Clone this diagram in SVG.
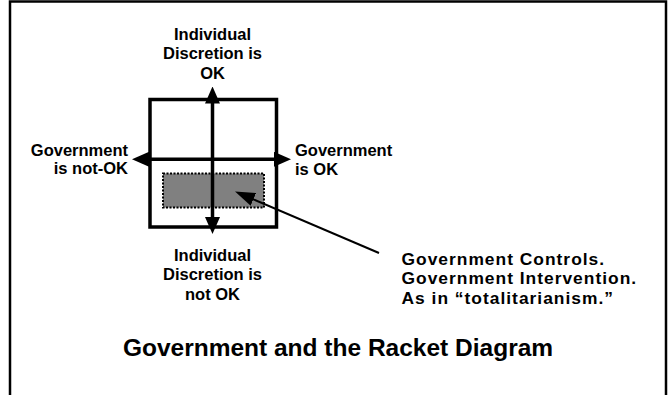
<svg xmlns="http://www.w3.org/2000/svg" width="668" height="395" viewBox="0 0 668 395">
  <style>
    .lbl { font-family: "Liberation Sans", Arial, sans-serif; font-weight: bold; font-size: 16.5px; fill: #000; }
    .note { font-family: "Liberation Sans", Arial, sans-serif; font-weight: bold; font-size: 17.4px; letter-spacing: 1px; fill: #000; }
    .title { font-family: "Liberation Sans", Arial, sans-serif; font-weight: bold; font-size: 24.5px; fill: #000; }
    .axis { stroke: #000; stroke-width: 3.5; fill: none; }
    .ptr { stroke: #000; stroke-width: 2; fill: none; }
  </style>
  <defs>
    <marker id="bigHead" markerUnits="userSpaceOnUse" viewBox="0 0 17 15" markerWidth="17" markerHeight="15" refX="9" refY="7.5" orient="auto-start-reverse">
      <path d="M0,0 L17,7.5 L0,15 Z" fill="#000"/>
    </marker>
    <marker id="ptrHead" markerUnits="userSpaceOnUse" viewBox="0 0 20 14" markerWidth="20" markerHeight="14" refX="16" refY="7" orient="auto">
      <path d="M0,0 L20,7 L0,14 Z" fill="#000"/>
    </marker>
  </defs>
  <rect width="668" height="395" fill="#fff"/>
  <g id="frame">
    <path d="M10,395 V1.5 H666 V395" fill="none" stroke="#000" stroke-width="2.5"/>
  </g>
  <g id="quadrant-box">
    <rect x="150" y="99.5" width="126.5" height="127.5" fill="none" stroke="#000" stroke-width="3.5"/>
  </g>
  <g id="control-zone">
    <rect x="163" y="173.5" width="101" height="34" fill="#808080" stroke="#000" stroke-width="2" stroke-dasharray="2 1.5"/>
  </g>
  <g id="connectors">
    <line class="axis" x1="140" y1="159.3" x2="283" y2="159.3" marker-start="url(#bigHead)" marker-end="url(#bigHead)"/>
    <line class="axis" x1="212.5" y1="94.5" x2="212.5" y2="226" marker-start="url(#bigHead)" marker-end="url(#bigHead)"/>
    <line class="ptr" x1="379" y1="253" x2="238.7" y2="193.1" marker-end="url(#ptrHead)"/>
  </g>
  <g id="label-top">
    <text class="lbl" text-anchor="middle" x="212.5" y="39.5">Individual</text>
    <text class="lbl" text-anchor="middle" x="212.5" y="59.3">Discretion is</text>
    <text class="lbl" text-anchor="middle" x="212.5" y="79">OK</text>
  </g>
  <g id="label-bottom">
    <text class="lbl" text-anchor="middle" x="212.5" y="260.5">Individual</text>
    <text class="lbl" text-anchor="middle" x="212.5" y="280">Discretion is</text>
    <text class="lbl" text-anchor="middle" x="212.5" y="299.5">not OK</text>
  </g>
  <g id="label-left">
    <text class="lbl" text-anchor="end" x="128" y="156">Government</text>
    <text class="lbl" text-anchor="end" x="128" y="174">is not-OK</text>
  </g>
  <g id="label-right">
    <text class="lbl" x="295" y="156">Government</text>
    <text class="lbl" x="295" y="174.5">is OK</text>
  </g>
  <g id="note">
    <text class="note" x="401.5" y="264.5">Government Controls.</text>
    <text class="note" x="401.5" y="284">Government Intervention.</text>
    <text class="note" x="401.5" y="303.5">As in “totalitarianism.”</text>
  </g>
  <g id="title">
    <text class="title" text-anchor="middle" x="338" y="356">Government and the Racket Diagram</text>
  </g>
</svg>
